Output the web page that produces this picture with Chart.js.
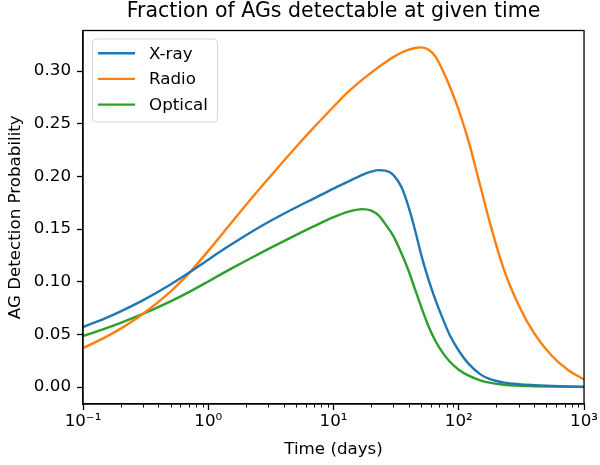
<!DOCTYPE html>
<html>
<head>
<meta charset="utf-8">
<script src="https://cdn.jsdelivr.net/npm/chart.js@4.4.1/dist/chart.umd.min.js"></script>
<style>
  html, body { margin: 0; padding: 0; background: #fff; }
  canvas { display: block; }
</style>
</head>
<body>
<canvas id="chart" width="600" height="465"></canvas>
<script>
// Time samples (days)
const times = [0.1, 0.15, 0.2, 0.3, 0.5, 0.7, 1, 1.5, 2, 3, 5, 7, 10, 13, 17, 20, 23, 26, 30,
    35, 40, 45, 50, 57, 65, 75, 85, 100, 120, 150, 180, 230, 300, 400, 550, 750, 1000];

// Detection probability per band
const xray = [0.057, 0.0653, 0.0719, 0.0823, 0.0974, 0.1085, 0.121, 0.1348, 0.1442, 0.1565,
    0.1705, 0.1792, 0.1885, 0.195, 0.2015, 0.2045, 0.206, 0.2055, 0.2015, 0.1895, 0.170, 0.148,
    0.126, 0.103, 0.083, 0.064, 0.049, 0.0345, 0.022, 0.0118, 0.0072, 0.0042, 0.0027, 0.0018,
    0.0011, 0.0006, 0.0003];
const radio = [0.037, 0.0472, 0.0555, 0.0694, 0.0907, 0.1079, 0.1293, 0.1548, 0.1729, 0.1975,
    0.2277, 0.2468, 0.2662, 0.280, 0.292, 0.2985, 0.304, 0.3085, 0.3133, 0.3177, 0.3205, 0.322,
    0.3226, 0.3205, 0.314, 0.300, 0.285, 0.263, 0.233, 0.189, 0.153, 0.111, 0.078, 0.051, 0.030,
    0.016, 0.0073];
const optical = [0.0485, 0.0555, 0.0609, 0.0694, 0.0814, 0.0902, 0.1003, 0.112, 0.120, 0.131,
    0.1443, 0.1528, 0.1613, 0.1664, 0.169, 0.1675, 0.1627, 0.1545, 0.1435, 0.1265, 0.1095, 0.092,
    0.0765, 0.0585, 0.044, 0.032, 0.024, 0.0165, 0.0108, 0.0062, 0.0039, 0.0022, 0.0013, 0.0008,
    0.0004, 0.0002, 0.0001];

const seriesNames = ['X-ray', 'Radio', 'Optical'];
const seriesColors = ['#1f77b4', '#ff7f0e', '#2ca02c'];

// Axis ticks
const xTicks = [0.1, 1, 10, 100, 1000];
const xTickLabels = ['10\u207B\u00B9', '10\u2070', '10\u00B9', '10\u00B2', '10\u00B3'];
const yTicks = [0, 0.05, 0.10, 0.15, 0.20, 0.25, 0.30];

const FONT = "'DejaVu Sans', 'Liberation Sans', sans-serif";
const FS = 16.7;

const toPoints = values => values.map((v, i) => ({ x: times[i], y: v }));

// minor ticks on the log axis + top/right spines
const framePlugin = {
    id: 'frame',
    afterDraw(chart) {
        const { ctx, chartArea: a, scales } = chart;
        ctx.save();
        ctx.strokeStyle = '#000';
        ctx.lineWidth = 1;
        xTicks.slice(0, -1).forEach(d => {
            for (let k = 2; k <= 9; k++) {
                const px = Math.round(scales.x.getPixelForValue(d * k)) + 0.5;
                ctx.beginPath();
                ctx.moveTo(px, a.bottom);
                ctx.lineTo(px, a.bottom + 3.5);
                ctx.stroke();
            }
        });
        ctx.lineWidth = 1.3;
        ctx.strokeRect(a.left, a.top, a.right - a.left, a.bottom - a.top);
        ctx.restore();
    }
};

// matplotlib-style legend box in upper left of the axes
const legendPlugin = {
    id: 'innerLegend',
    afterDatasetsDraw(chart) {
        const { ctx, chartArea: a } = chart;
        const x0 = a.left + 9, y0 = a.top + 8, w = 125, h = 83, r = 4;
        ctx.save();
        ctx.beginPath();
        ctx.roundRect(x0 + 0.5, y0 + 0.5, w, h, r);
        ctx.fillStyle = 'rgba(255,255,255,0.8)';
        ctx.fill();
        ctx.strokeStyle = '#d6d6d6';
        ctx.lineWidth = 1;
        ctx.stroke();
        ctx.font = FS + 'px ' + FONT;
        ctx.textBaseline = 'middle';
        seriesNames.forEach((name, i) => {
            const yy = y0 + 14.7 + i * 25.7;
            ctx.strokeStyle = seriesColors[i];
            ctx.lineWidth = 2.4;
            ctx.beginPath();
            ctx.moveTo(x0 + 6, yy);
            ctx.lineTo(x0 + 43, yy);
            ctx.stroke();
            ctx.fillStyle = '#000';
            ctx.fillText(name, x0 + 57, yy + 1);
        });
        ctx.restore();
    }
};

new Chart(document.getElementById('chart'), {
    type: 'line',
    data: {
        datasets: [xray, radio, optical].map((vals, i) => ({
            label: seriesNames[i],
            data: toPoints(vals),
            borderColor: seriesColors[i],
            backgroundColor: seriesColors[i],
            borderWidth: 2.4,
            pointRadius: 0,
            cubicInterpolationMode: 'monotone',
            fill: false
        }))
    },
    options: {
        responsive: false,
        animation: false,
        devicePixelRatio: 1,
        layout: { padding: { left: 0, right: 14, top: 0, bottom: 0 } },
        plugins: {
            legend: { display: false },
            tooltip: { enabled: false },
            title: {
                display: true,
                fullSize: false,
                text: 'Fraction of AGs detectable at given time',
                color: '#000',
                font: { family: FONT, size: 20.5, weight: 'normal', lineHeight: 1 },
                padding: { top: 1, bottom: 9 }
            }
        },
        scales: {
            x: {
                type: 'logarithmic',
                min: 0.1,
                max: 1000,
                afterBuildTicks: scale => { scale.ticks = xTicks.map(v => ({ value: v })); },
                afterFit: scale => { scale.height = 61; },
                ticks: {
                    autoSkip: false,
                    maxRotation: 0,
                    padding: 2,
                    color: '#000',
                    font: { family: FONT, size: FS },
                    callback: (v) => xTickLabels[xTicks.indexOf(v)] ?? ''
                },
                grid: { drawOnChartArea: false, drawTicks: true, tickLength: 6, tickColor: '#000', tickWidth: 1.3 },
                border: { color: '#000', width: 1.3 },
                title: {
                    display: true,
                    text: 'Time (days)',
                    color: '#000',
                    font: { family: FONT, size: FS },
                    padding: { top: 0, bottom: 5 }
                }
            },
            y: {
                type: 'linear',
                min: -0.0161,
                max: 0.3386,
                afterBuildTicks: scale => { scale.ticks = yTicks.map(v => ({ value: v })); },
                afterFit: scale => { scale.width = 83; },
                ticks: {
                    autoSkip: false,
                    padding: 6,
                    color: '#000',
                    font: { family: FONT, size: FS },
                    callback: v => v.toFixed(2)
                },
                grid: { drawOnChartArea: false, drawTicks: true, tickLength: 6, tickColor: '#000', tickWidth: 1.3 },
                border: { color: '#000', width: 1.3 },
                title: {
                    display: true,
                    text: 'AG Detection Probability',
                    color: '#000',
                    font: { family: FONT, size: FS },
                    padding: { top: 6, bottom: 0 }
                }
            }
        }
    },
    plugins: [framePlugin, legendPlugin]
});
</script>
</body>
</html>
